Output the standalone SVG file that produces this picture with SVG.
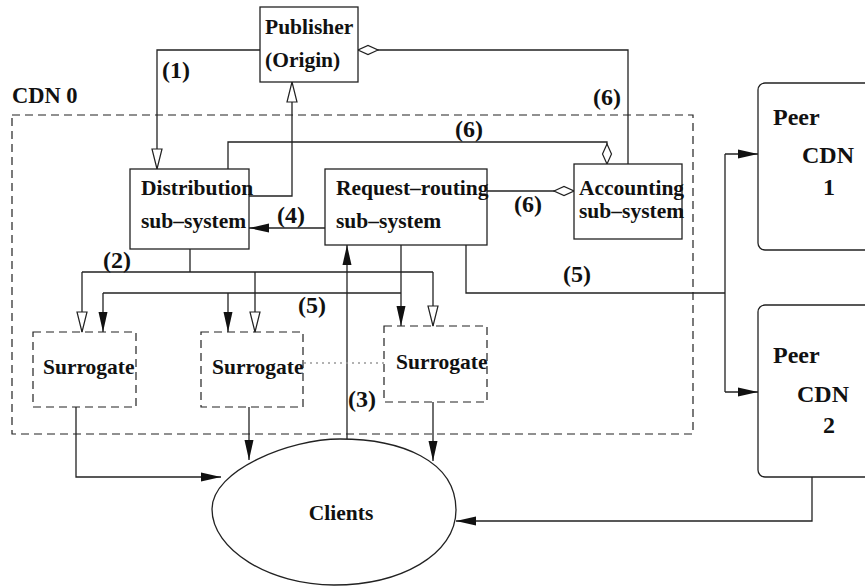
<svg xmlns="http://www.w3.org/2000/svg" width="865" height="586" viewBox="0 0 865 586">
<style>
  .t { font-family: "Liberation Serif", "Times New Roman", serif; font-weight: bold; font-size: 21.5px; fill: #111; }
  .lbl { font-family: "Liberation Serif", "Times New Roman", serif; font-weight: bold; font-size: 24px; fill: #111; }
  .peer { font-family: "Liberation Serif", "Times New Roman", serif; font-weight: bold; font-size: 24px; fill: #111; }
  .box { fill: #fff; stroke: #222; stroke-width: 1.3; }
  .dbox { fill: none; stroke: #222; stroke-width: 1.2; stroke-dasharray: 8,5; }
  .ln { fill: none; stroke: #222; stroke-width: 1.3; }
  .dot { fill: none; stroke: #999; stroke-width: 1.3; stroke-dasharray: 2,4; }
</style>
<defs>
  <marker id="fa" viewBox="0 0 20 10" refX="20" refY="5" markerWidth="20" markerHeight="10" markerUnits="userSpaceOnUse" orient="auto">
    <path d="M0,0.5 L20,5 L0,9.5 z" fill="#111"/>
  </marker>
  <marker id="ha" viewBox="-1 -1 22 12" refX="20" refY="5" markerWidth="22" markerHeight="12" markerUnits="userSpaceOnUse" orient="auto">
    <path d="M0,0 L20,5 L0,10 z" fill="#fff" stroke="#222" stroke-width="1.2"/>
  </marker>
  <marker id="dm" viewBox="-1 -1 22 12" refX="20" refY="5" markerWidth="22" markerHeight="12" markerUnits="userSpaceOnUse" orient="auto">
    <path d="M0,5 L10,0.5 L20,5 L10,9.5 z" fill="#fff" stroke="#222" stroke-width="1.2"/>
  </marker>
</defs>
<rect width="865" height="586" fill="#fff"/>

<g id="cdn0">
  <rect class="dbox" x="12" y="115" width="681" height="319"/>
  <text class="t" x="12" y="103" style="font-size:22.5px">CDN 0</text>
</g>

<g id="connectors">
  <path class="ln" d="M260,50 H157 V169" marker-end="url(#ha)"/>
  <path class="ln" d="M249,196 H292 V82" marker-end="url(#ha)"/>
  <path class="ln" d="M228,169 V142 H607 V164" marker-end="url(#dm)"/>
  <path class="ln" d="M628,164 V50 H358" marker-end="url(#dm)"/>
  <path class="ln" d="M487,191 H574" marker-end="url(#dm)"/>
  <path class="ln" d="M325,228 H249" marker-end="url(#fa)"/>
  <path class="ln" d="M190,249 V272 M82,272 H433"/>
  <path class="ln" d="M82,272 V332" marker-end="url(#ha)"/>
  <path class="ln" d="M255,272 V332" marker-end="url(#ha)"/>
  <path class="ln" d="M433,272 V326" marker-end="url(#ha)"/>
  <path class="ln" d="M401,245 V326" marker-end="url(#fa)"/>
  <path class="ln" d="M103,293 H401"/>
  <path class="ln" d="M103,293 V332" marker-end="url(#fa)"/>
  <path class="ln" d="M228,293 V332" marker-end="url(#fa)"/>
  <path class="ln" d="M466,245 V293 H725 M725,154 V392"/>
  <path class="ln" d="M725,154 H758" marker-end="url(#fa)"/>
  <path class="ln" d="M725,392 H758" marker-end="url(#fa)"/>
  <path class="ln" d="M347,439 V245" marker-end="url(#fa)"/>
  <path class="ln" d="M76,407 V477 H221" marker-end="url(#fa)"/>
  <path class="ln" d="M249,407 V460" marker-end="url(#fa)"/>
  <path class="ln" d="M433,402 V461" marker-end="url(#fa)"/>
  <path class="ln" d="M812,477 V521 H456" marker-end="url(#fa)"/>
  <path class="dot" d="M304,363 H384"/>
  <text class="lbl" x="162" y="78">(1)</text>
  <text class="lbl" x="593" y="105">(6)</text>
  <text class="lbl" x="455" y="137">(6)</text>
  <text class="lbl" x="514" y="212">(6)</text>
  <text class="lbl" x="277" y="223">(4)</text>
  <text class="lbl" x="103" y="268">(2)</text>
  <text class="lbl" x="563" y="282">(5)</text>
  <text class="lbl" x="298" y="313">(5)</text>
  <text class="lbl" x="348" y="407">(3)</text>
</g>

<g id="publisher">
  <rect class="box" x="260" y="7" width="98" height="75"/>
  <text class="t" x="265" y="34">Publisher</text>
  <text class="t" x="265" y="67">(Origin)</text>
</g>

<g id="distribution">
  <rect class="box" x="130" y="169" width="119" height="80"/>
  <text class="t" x="141" y="195">Distribution</text>
  <text class="t" x="141" y="228">sub–system</text>
</g>

<g id="request-routing">
  <rect class="box" x="325" y="169" width="162" height="76"/>
  <text class="t" x="336" y="195">Request–routing</text>
  <text class="t" x="336" y="228">sub–system</text>
</g>

<g id="accounting">
  <rect class="box" x="574" y="164" width="108" height="75"/>
  <text class="t" x="579" y="195">Accounting</text>
  <text class="t" x="579" y="218">sub–system</text>
</g>

<g id="surrogate1">
  <rect class="dbox" x="33" y="332" width="103" height="75"/>
  <text class="t" x="43" y="374">Surrogate</text>
</g>
<g id="surrogate2">
  <rect class="dbox" x="201" y="332" width="102" height="75"/>
  <text class="t" x="212" y="374">Surrogate</text>
</g>
<g id="surrogate3">
  <rect class="dbox" x="384" y="326" width="103" height="76"/>
  <text class="t" x="396" y="369">Surrogate</text>
</g>

<g id="clients">
  <path class="box" d="M212,509 C212,470 290,439 340,439 C400,439 456,460 456,510 C456,555 400,585 334,585 C270,585 212,550 212,509 Z"/>
  <text class="t" x="341" y="520" text-anchor="middle">Clients</text>
</g>

<g id="peer1">
  <rect class="box" x="758" y="83" width="130" height="167" rx="7"/>
  <text class="peer" x="773" y="125">Peer</text>
  <text class="peer" x="802" y="163">CDN</text>
  <text class="peer" x="823" y="195">1</text>
</g>
<g id="peer2">
  <rect class="box" x="758" y="305" width="130" height="172" rx="7"/>
  <text class="peer" x="773" y="363">Peer</text>
  <text class="peer" x="797" y="402">CDN</text>
  <text class="peer" x="823" y="433">2</text>
</g>
</svg>
